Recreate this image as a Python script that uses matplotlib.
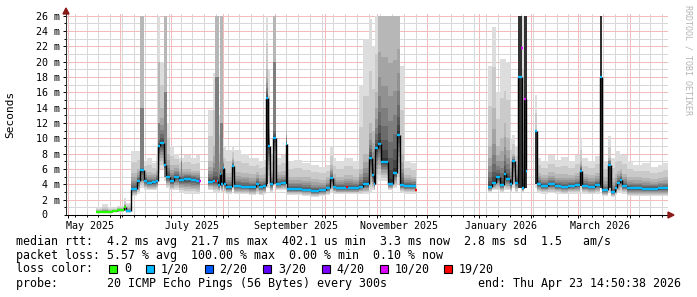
import numpy as np
import matplotlib
matplotlib.use("Agg")
import matplotlib.pyplot as plt
import matplotlib.dates as mdates
import matplotlib.transforms as mtransforms
from matplotlib.patches import Rectangle, Polygon
from matplotlib.ticker import MultipleLocator
from datetime import datetime, timedelta

nan = float("nan")

# ---- data (days after 2025-05-01, values in ms) ----
T0 = datetime(2025, 5, 1)
T_END = datetime(2026, 4, 23, 14, 50, 38)

step_day = [16.5, 20.0, 24.0, 26.0, 29.0, 33.0, 34.4, 37.4, 41.0, 43.0,
            45.2, 47.0, 50.0, 52.4, 53.6, 55.0, 57.0, 58.5, 60.7, 63.0,
            66.0, 69.0, 73.0, 76.0, 78.7,
            83.5, 86.0, 89.0, 90.3, 91.2, 92.0, 93.0, 94.3, 97.8, 98.6,
            103.0, 108.0, 112.0, 114.0, 116.0, 117.9, 119.1, 120.3, 122.2, 123.8,
            126.6, 129.8, 130.4, 134.6, 139.6, 144.6, 149.6, 153.5, 155.8, 158.0,
            159.5, 164.5, 169.5, 173.1, 175.5, 179.1, 181.3, 182.3, 182.9, 184.5,
            186.3, 190.5, 193.5, 195.9, 197.7, 200.3, 204.3, 207.3,
            250.1, 252.6, 255.1, 257.1, 259.6, 261.1, 263.1, 264.6, 266.1, 268.1,
            270.5, 271.7, 272.9, 273.7,
            278.3, 279.5, 281.9, 285.9, 289.9, 293.8, 297.8, 301.8, 304.9, 306.1,
            309.8, 313.8, 316.9, 318.1, 321.6, 323.4, 325.8, 327.2, 328.8, 330.2,
            332.9, 336.7, 341.7, 346.7, 351.7, 354.7]

median = [0.4, 0.4, 0.4, 0.5, 0.6, 1.0, 0.5, 3.4, 4.4, 5.9,
          4.5, 4.2, 4.3, 4.5, 9.0, 9.4, 6.5, 5.0, 4.4, 5.0,
          4.6, 4.7, 4.6, 4.5, nan,
          4.3, 4.4, 3.9, 5.4, 4.0, 6.1, 4.0, 3.6, 6.4, 3.8,
          3.7, 3.6, 4.1, 3.7, 3.8, 15.2, 9.0, 4.0, 10.0, 4.1,
          4.2, 9.2, 3.4, 3.4, 3.3, 3.1, 3.2, 3.5, 4.8, 3.7,
          3.5, 3.5, 3.5, 3.7, 4.0, 7.5, 5.2, 4.0, 8.7, 9.3,
          6.9, 4.1, 5.5, 10.5, 3.9, 3.8, 3.8, nan,
          3.6, 4.2, 4.9, 3.9, 5.4, 4.7, 4.0, 7.0, 4.2, 18.0,
          3.5, 15.1, 5.8, nan,
          10.9, 4.0, 3.8, 4.0, 3.8, 3.7, 3.8, 3.9, 5.8, 3.8,
          3.7, 3.9, 18.0, 3.2, 6.5, 3.0, 3.5, 4.2, 4.6, 3.8,
          3.5, 3.5, 3.4, 3.4, 3.5, 3.5]

smoke_top = [0.9, 1.4, 0.9, 0.9, 1.2, 2.2, 1.6, 8.3, 8.3, 8.0,
             7.0, 7.5, 6.8, 8.0, 16.0, 20.0, 16.0, 12.0, 9.0, 8.0,
             7.5, 7.8, 7.5, 7.8, nan,
             13.7, 18.5, 13.0, 12.0, 11.0, 10.0, 9.0, 8.5, 9.0, 8.5,
             8.0, 7.5, 7.5, 7.0, 7.2, 26.0, 19.0, 8.0, 26.0, 7.5,
             7.8, 13.6, 7.0, 7.2, 6.8, 6.5, 6.3, 6.5, 9.0, 7.5,
             7.0, 7.5, 7.0, 17.0, 23.0, 25.6, 22.0, 22.0, 26.0, 26.0,
             26.0, 26.0, 26.0, 26.0, 19.5, 7.0, 6.8, nan,
             19.5, 24.5, 16.0, 20.4, 20.4, 20.0, 10.0, 10.5, 9.0, 26.0,
             26.0, 26.0, 22.0, nan,
             15.6, 7.5, 7.0, 7.8, 7.2, 7.6, 7.0, 7.8, 10.0, 7.5,
             7.0, 7.7, 26.0, 7.0, 10.3, 7.5, 8.3, 8.3, 8.0, 7.8,
             7.0, 6.5, 6.8, 6.2, 6.5, 6.8]

smoke_upper = [0.6, 0.8, 0.6, 0.7, 0.9, 1.5, 1.0, 5.5, 6.0, 7.0,
               5.8, 5.6, 5.5, 6.0, 12.0, 14.0, 11.0, 8.0, 6.5, 6.5,
               6.0, 6.0, 5.8, 5.8, nan,
               7.0, 9.0, 8.0, 8.0, 7.0, 7.5, 6.0, 5.5, 7.5, 5.6,
               5.5, 5.3, 5.6, 5.2, 5.3, 19.0, 12.0, 5.8, 14.0, 5.6,
               5.7, 11.0, 5.0, 5.0, 4.9, 4.7, 4.6, 4.9, 6.5, 5.3,
               5.0, 5.2, 5.0, 6.0, 8.0, 12.0, 11.0, 11.0, 16.0, 26.0,
               26.0, 26.0, 26.0, 26.0, 8.0, 5.2, 5.0, nan,
               9.0, 14.0, 9.0, 10.0, 12.0, 10.0, 7.0, 8.0, 6.5, 26.0,
               12.0, 26.0, 10.0, nan,
               11.0, 5.5, 5.2, 5.6, 5.3, 5.3, 5.2, 5.5, 7.0, 5.4,
               5.2, 5.5, 26.0, 4.9, 7.5, 4.8, 5.4, 5.8, 6.0, 5.4,
               5.0, 4.9, 4.8, 4.7, 4.8, 4.9]

smoke_low = [0.3, 0.3, 0.3, 0.4, 0.4, 0.5, 0.3, 2.5, 2.8, 3.5,
             3.3, 3.2, 3.2, 3.3, 5.5, 6.0, 4.5, 3.5, 3.2, 3.2,
             3.0, 2.8, 2.8, 2.8, nan,
             3.3, 3.0, 3.0, 3.2, 3.0, 3.2, 3.0, 2.8, 3.2, 2.7,
             2.7, 2.6, 2.8, 2.6, 2.7, 3.5, 3.5, 3.0, 3.8, 3.2,
             3.2, 3.8, 2.6, 2.6, 2.5, 2.4, 2.5, 2.6, 3.0, 2.8,
             2.7, 2.7, 2.7, 2.8, 2.8, 3.0, 3.2, 3.2, 4.0, 4.5,
             4.5, 3.2, 3.5, 4.0, 3.0, 2.8, 2.8, nan,
             3.0, 3.2, 3.2, 3.0, 3.2, 3.2, 3.0, 3.5, 3.0, 3.5,
             3.0, 4.0, 3.5, nan,
             3.5, 3.0, 2.8, 2.9, 2.8, 2.7, 2.8, 2.8, 3.2, 2.8,
             2.7, 2.8, 3.5, 2.5, 3.0, 2.4, 2.6, 2.9, 3.0, 2.8,
             2.5, 2.5, 2.5, 2.5, 2.5, 2.5]

# lost pings (of 20) per step
loss = [0, 0, 0, 0, 0, 0] + [1] * 78 + [10] + [1] * 31

# narrow dense spikes: start/end day, lower end, top of light/upper/mid/dark layer
spike_start = [42.6, 53.6, 57.0, 67.0, 87.7, 90.7, 117.9, 122.0, 129.6,
               268.1, 271.5, 278.3, 304.9, 316.9, 321.6]
spike_end = [45.2, 54.8, 59.0, 67.8, 90.1, 92.5, 119.1, 123.8, 130.4,
             270.5, 273.3, 279.3, 305.9, 318.1, 323.2]
spike_low = [4.5, 9.0, 5.0, 4.6, 4.0, 4.0, 4.0, 4.0, 4.0,
             3.5, 3.5, 4.0, 3.8, 3.5, 3.5]
spike_top = [26, 26, 26, 11, 26, 26, 26, 26, 13.6,
             26, 26, 15.6, 10, 26, 10.3]
spike_upper = [26, 20, 26, 9, 26, 26, 19, 26, 11,
               26, 26, 11, 6, 26, 7.5]
spike_mid = [14, 12, 16, 7, 18, 12, 16, 20, 10,
             26, 26, 11, 6, 26, 7]
spike_core = [4.5, 9.0, 5.0, 4.6, 4.0, 4.0, 15.2, 4.0, 9.2,
              26, 26, 10.9, 5.8, 26, 6.5]

# single loss-coloured median samples
dot_day = [78.2, 87.3, 165.4, 206.6, 269.9]
dot_val = [4.5, 4.4, 3.6, 3.3, 21.8]
dot_loss = [10, 19, 19, 19, 10]

month_labels = ["May 2025", "July 2025", "September 2025",
                "November 2025", "January 2026", "March 2026"]
month_dates = [datetime(2025, 5, 1), datetime(2025, 7, 1), datetime(2025, 9, 1),
               datetime(2025, 11, 1), datetime(2026, 1, 1), datetime(2026, 3, 1)]

legend_rtt = "median rtt:  4.2 ms avg  21.7 ms max  402.1 us min  3.3 ms now  2.8 ms sd  1.5   am/s"
legend_loss = "packet loss: 5.57 % avg  100.00 % max  0.00 % min  0.10 % now"
loss_levels = [0, 1, 2, 3, 4, 10, 19]
loss_names = ["0", "1/20", "2/20", "3/20", "4/20", "10/20", "19/20"]
probe_text = "probe:       20 ICMP Echo Pings (56 Bytes) every 300s"
end_text = "end: Thu Apr 23 14:50:38 2026"

# ---- style ----
LOSS_COLORS = {0: "#26ff00", 1: "#00b8ff", 2: "#0059ff", 3: "#5e00ff",
               4: "#7e00ff", 10: "#dd00ff", 19: "#ff0000"}
GREYS = ["#%02x%02x%02x" % ((19 * (10 - i) + 50,) * 3) for i in range(1, 11)]
UP = [None, None, 1.0, 0.72, 0.52, 0.37, 0.25, 0.15, 0.08, 0.03]
DN = [1.0, 0.85, 0.7, 0.57, 0.45, 0.35, 0.26, 0.18, 0.1, 0.04]
SPIKE_LAYER = {0: spike_top, 2: spike_upper, 5: spike_mid, 9: spike_core}

plt.rcParams["font.family"] = ["DejaVu Sans Mono"]
plt.rcParams["lines.scale_dashes"] = False
W, H = 697, 297
fig = plt.figure(figsize=(W / 100, H / 100), dpi=100)
fig.patch.set_facecolor("white")
ax = fig.add_axes([66 / W, (H - 215) / H, (668.3 - 66) / W, (215 - 13) / H])

t0 = mdates.date2num(T0)
t_end = mdates.date2num(T_END)
x0 = t0 + np.array(step_day)
x1 = np.append(x0[1:], t_end)
med = np.array(median)
top = np.array(smoke_top)
upper = np.array(smoke_upper)
low = np.array(smoke_low)
ok = np.isfinite(med)

s0 = t0 + np.array(spike_start)
s1 = t0 + np.array(spike_end)
slow = np.array(spike_low)

for k in range(10):
    if k == 0:
        hi = top
    elif k == 1:
        hi = (top + upper) / 2
    else:
        hi = med + (upper - med) * UP[k]
    lo = med - (med - low) * DN[k]
    ax.bar(x0[ok], (hi - lo)[ok], bottom=lo[ok], width=(x1 - x0)[ok], align="edge",
           color=GREYS[k], linewidth=0, antialiased=False, zorder=2)
    if k in SPIKE_LAYER:
        sh = np.array(SPIKE_LAYER[k], dtype=float)
        ax.bar(s0, sh - slow, bottom=slow, width=s1 - s0, align="edge",
               color=GREYS[k], linewidth=0, antialiased=False, zorder=2)

# median: black risers, loss coloured steps
ax.vlines(x0[1:], med[:-1], med[1:], color="black", linewidth=1.0, zorder=3)
ax.hlines(med[ok], x0[ok], x1[ok], colors=[LOSS_COLORS[l] for l, o in zip(loss, ok) if o],
          linewidth=1.7, zorder=4)
dd = t0 + np.array(dot_day)
ax.hlines(dot_val, dd, dd + 1.2, colors=[LOSS_COLORS[l] for l in dot_loss],
          linewidth=1.7, zorder=4)

ax.set_xlim(t0 - 1.31, t_end)
ax.set_ylim(0, (215 - 13) / 7.665)

ax.xaxis.set_major_locator(mdates.MonthLocator())
ax.xaxis.set_minor_locator(mdates.WeekdayLocator(byweekday=mdates.MO))
ax.xaxis.set_major_formatter(plt.NullFormatter())
ax.yaxis.set_minor_locator(MultipleLocator(1))
ax.set_yticks(np.arange(2, 27, 2))
ax.set_yticklabels(["%d m" % v for v in range(2, 27, 2)])

# rrdtool style dotted grid, kept under the smoke
dots = (0, (0.72, 0.72))
ax.set_axisbelow(True)
ax.grid(which="minor", color="#d8d8d8", linestyle=dots, linewidth=0.72,
        antialiased=False, zorder=0.5)
ax.grid(which="major", color="#f2bcbc", linestyle=dots, linewidth=0.72,
        antialiased=False, zorder=0.6)

ax.tick_params(axis="y", which="major", length=2.2, width=0.7, pad=2.2, labelsize=7.2)
ax.tick_params(axis="y", which="minor", length=1.4, width=0.7)
ax.tick_params(axis="x", which="major", length=2.2, width=0.7)
ax.tick_params(axis="x", which="minor", length=1.4, width=0.7)
for s in ["top", "right"]:
    ax.spines[s].set_visible(False)
ax.spines["left"].set_linewidth(0.75)
ax.spines["left"].set_color("#303030")
ax.spines["bottom"].set_linewidth(0.75)
ax.spines["left"].set_zorder(5)
ax.spines["bottom"].set_zorder(5)


def fx(x):
    return x / W


def fy(y):
    return 1 - y / H


# month labels
lab_tr = mtransforms.blended_transform_factory(ax.transData, fig.transFigure)
for lab, d in zip(month_labels, month_dates):
    ax.text(mdates.date2num(d + timedelta(days=13)), fy(226), lab, transform=lab_tr,
            ha="center", va="center", fontsize=7.2)

fig.text(fx(44.5), fy(215), "0", ha="center", va="center", fontsize=7.2)
fig.text(fx(10.5), fy(114), "Seconds", rotation=90, ha="center", va="center", fontsize=8)
fig.text(fx(688), fy(60), "RRDTOOL / TOBI OETIKER", rotation=270, ha="center", va="center",
         fontsize=6, color="#b4b4b4")

# axis arrows
fig.add_artist(Polygon([(fx(66), fy(8)), (fx(63), fy(14)), (fx(69), fy(14))],
                       closed=True, color="#8b1a1a", transform=fig.transFigure))
fig.add_artist(Polygon([(fx(674), fy(215)), (fx(668), fy(212)), (fx(668), fy(218))],
                       closed=True, color="#8b1a1a", transform=fig.transFigure))

# legend
fs = 8.4
fig.text(fx(16), fy(241), legend_rtt, ha="left", va="center", fontsize=fs)
fig.text(fx(16), fy(255), legend_loss, ha="left", va="center", fontsize=fs)
fig.text(fx(16), fy(269), "loss color:", ha="left", va="center", fontsize=fs)
box_x = [109, 146, 204.5, 263, 321.5, 379.5, 444]
for bx, lv, name in zip(box_x, loss_levels, loss_names):
    fig.add_artist(Rectangle((fx(bx), fy(273)), 8 / W, 8 / H, transform=fig.transFigure,
                             facecolor=LOSS_COLORS[lv], edgecolor="black", linewidth=0.8))
    fig.text(fx(bx + 15), fy(269), name, ha="left", va="center", fontsize=fs)
fig.text(fx(16), fy(283), probe_text, ha="left", va="center", fontsize=fs)
fig.text(fx(681), fy(283), end_text, ha="right", va="center", fontsize=fs)

fig.savefig("out.png", dpi=100, facecolor="white")
